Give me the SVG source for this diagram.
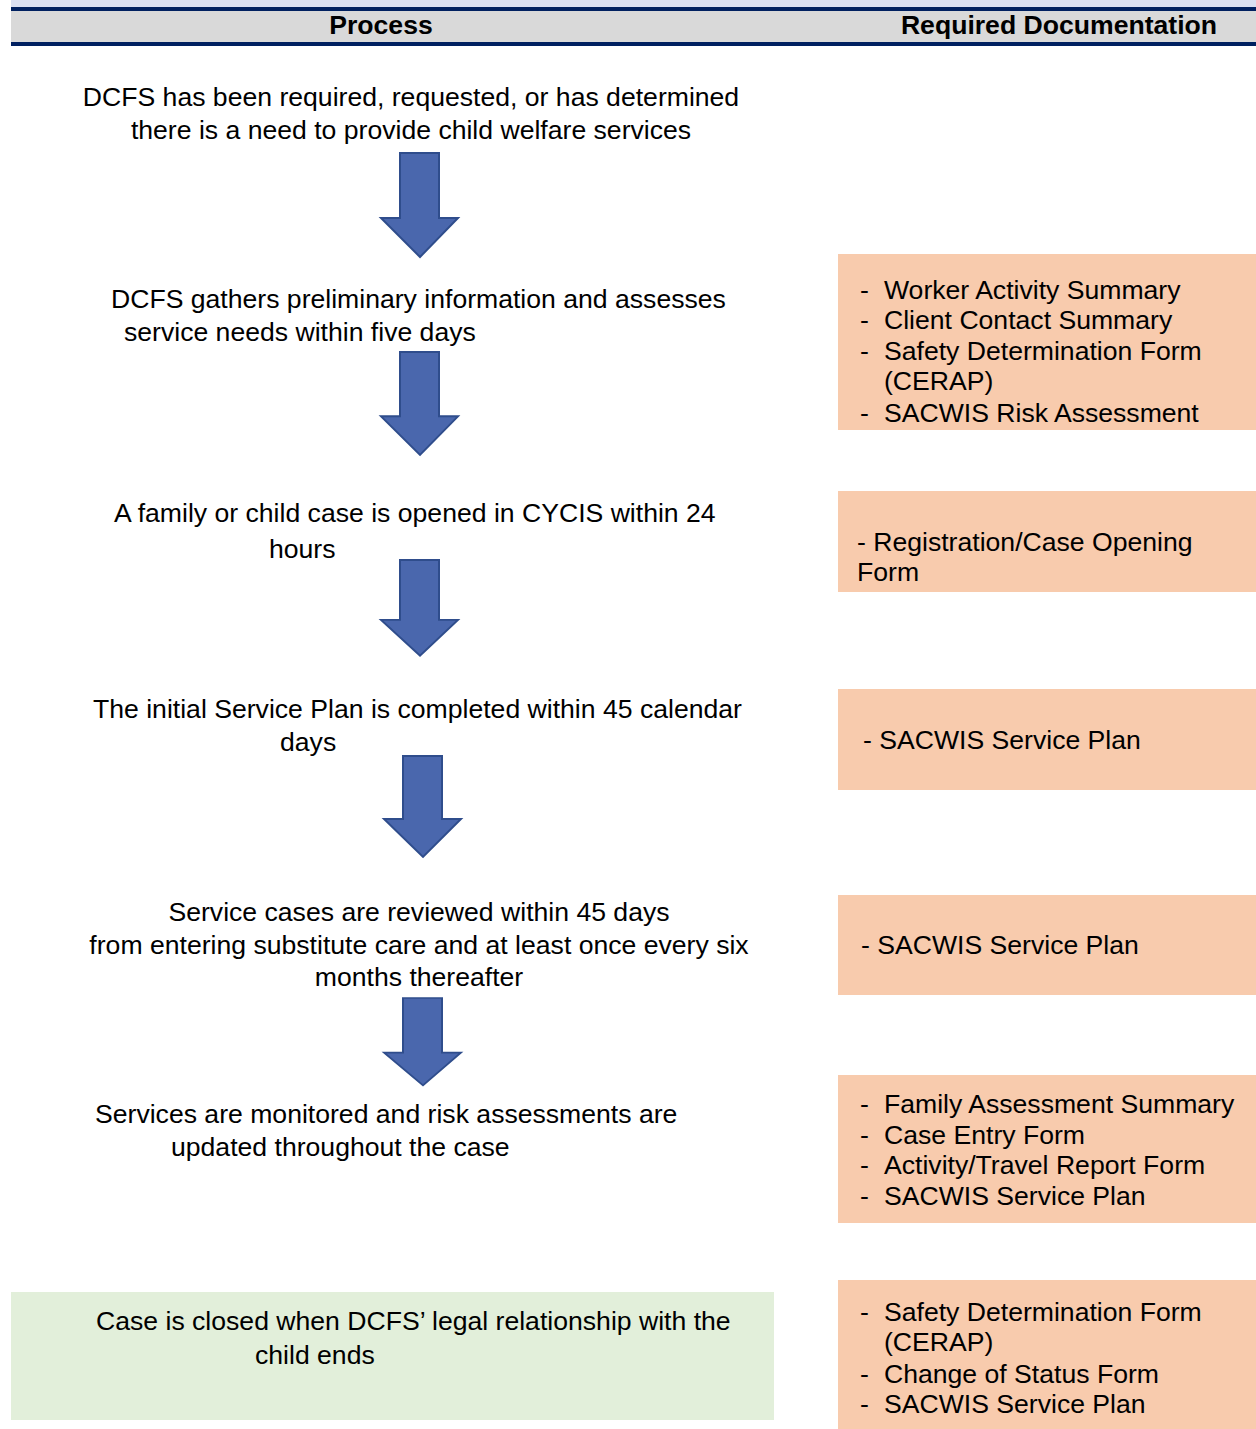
<svg xmlns="http://www.w3.org/2000/svg" width="1256" height="1429" viewBox="0 0 1256 1429">
<style>
text{font-family:"Liberation Sans",Arial,sans-serif;font-size:26.6px;fill:#000}
.h{font-weight:bold}
.doc{fill:#f8cbad}
.arrow{fill:#4a67ad;stroke:#2f4d8c;stroke-width:2}
</style>
<defs>
<path id="arr" d="M-20,0 H19 V65 H38 L0,104 L-39,65 H-20 Z"/>
</defs>
<rect width="1256" height="1429" fill="#fff"/>
<g id="header">
<rect x="11" y="0" width="1245" height="7" fill="#dae0f2"/>
<rect x="11" y="11" width="1245" height="31" fill="#d9d9d9"/>
<rect x="11" y="7" width="1245" height="4" fill="#002060"/>
<rect x="11" y="42" width="1245" height="4" fill="#002060"/>
<text class="h" x="381" y="34" text-anchor="middle">Process</text>
<text class="h" x="1059" y="34" text-anchor="middle">Required Documentation</text>
</g>
<g id="connectors">
<use href="#arr" x="420" y="153" class="arrow"/>
<use href="#arr" x="420" y="352" class="arrow" transform="translate(420 352) scale(1 0.99) translate(-420 -352)"/>
<use href="#arr" x="420" y="560" class="arrow" transform="translate(420 560) scale(1 0.92) translate(-420 -560)"/>
<use href="#arr" x="423" y="756" class="arrow" transform="translate(423 756) scale(1 0.97) translate(-423 -756)"/>
<use href="#arr" x="423" y="998" class="arrow" transform="translate(423 998) scale(1 0.84) translate(-423 -998)"/>
</g>
<g id="step1">
<text x="411" y="106" text-anchor="middle">DCFS has been required, requested, or has determined</text>
<text x="411" y="139" text-anchor="middle">there is a need to provide child welfare services</text>
</g>
<g id="step2">
<text x="111" y="308">DCFS gathers preliminary information and assesses</text>
<text x="124" y="341">service needs within five days</text>
</g>
<g id="step3">
<text x="114" y="522">A family or child case is opened in CYCIS within 24</text>
<text x="269" y="558">hours</text>
</g>
<g id="step4">
<text x="93" y="718">The initial Service Plan is completed within 45 calendar</text>
<text x="280" y="751">days</text>
</g>
<g id="step5">
<text x="419" y="921" text-anchor="middle">Service cases are reviewed within 45 days</text>
<text x="419" y="954" text-anchor="middle">from entering substitute care and at least once every six</text>
<text x="419" y="986" text-anchor="middle">months thereafter</text>
</g>
<g id="step6">
<text x="95" y="1123">Services are monitored and risk assessments are</text>
<text x="171" y="1156">updated throughout the case</text>
</g>
<g id="step7">
<rect x="11" y="1292" width="763" height="128" fill="#e2efda"/>
<text x="96" y="1330">Case is closed when DCFS’ legal relationship with the</text>
<text x="255" y="1364">child ends</text>
</g>
<g id="doc1">
<rect class="doc" x="838" y="254" width="418" height="176"/>
<text x="860" y="299">-</text><text x="884" y="299">Worker Activity Summary</text>
<text x="860" y="329">-</text><text x="884" y="329">Client Contact Summary</text>
<text x="860" y="360">-</text><text x="884" y="360">Safety Determination Form</text>
<text x="884" y="390">(CERAP)</text>
<text x="860" y="422">-</text><text x="884" y="422">SACWIS Risk Assessment</text>
</g>
<g id="doc2">
<rect class="doc" x="838" y="491" width="418" height="101"/>
<text x="857" y="551">- Registration/Case Opening</text>
<text x="857" y="581">Form</text>
</g>
<g id="doc3">
<rect class="doc" x="838" y="689" width="418" height="101"/>
<text x="863" y="749">- SACWIS Service Plan</text>
</g>
<g id="doc4">
<rect class="doc" x="838" y="895" width="418" height="100"/>
<text x="861" y="954">- SACWIS Service Plan</text>
</g>
<g id="doc5">
<rect class="doc" x="838" y="1075" width="418" height="148"/>
<text x="860" y="1113">-</text><text x="884" y="1113">Family Assessment Summary</text>
<text x="860" y="1144">-</text><text x="884" y="1144">Case Entry Form</text>
<text x="860" y="1174">-</text><text x="884" y="1174">Activity/Travel Report Form</text>
<text x="860" y="1205">-</text><text x="884" y="1205">SACWIS Service Plan</text>
</g>
<g id="doc6">
<rect class="doc" x="838" y="1280" width="418" height="149"/>
<text x="860" y="1321">-</text><text x="884" y="1321">Safety Determination Form</text>
<text x="884" y="1351">(CERAP)</text>
<text x="860" y="1383">-</text><text x="884" y="1383">Change of Status Form</text>
<text x="860" y="1413">-</text><text x="884" y="1413">SACWIS Service Plan</text>
</g>
</svg>
